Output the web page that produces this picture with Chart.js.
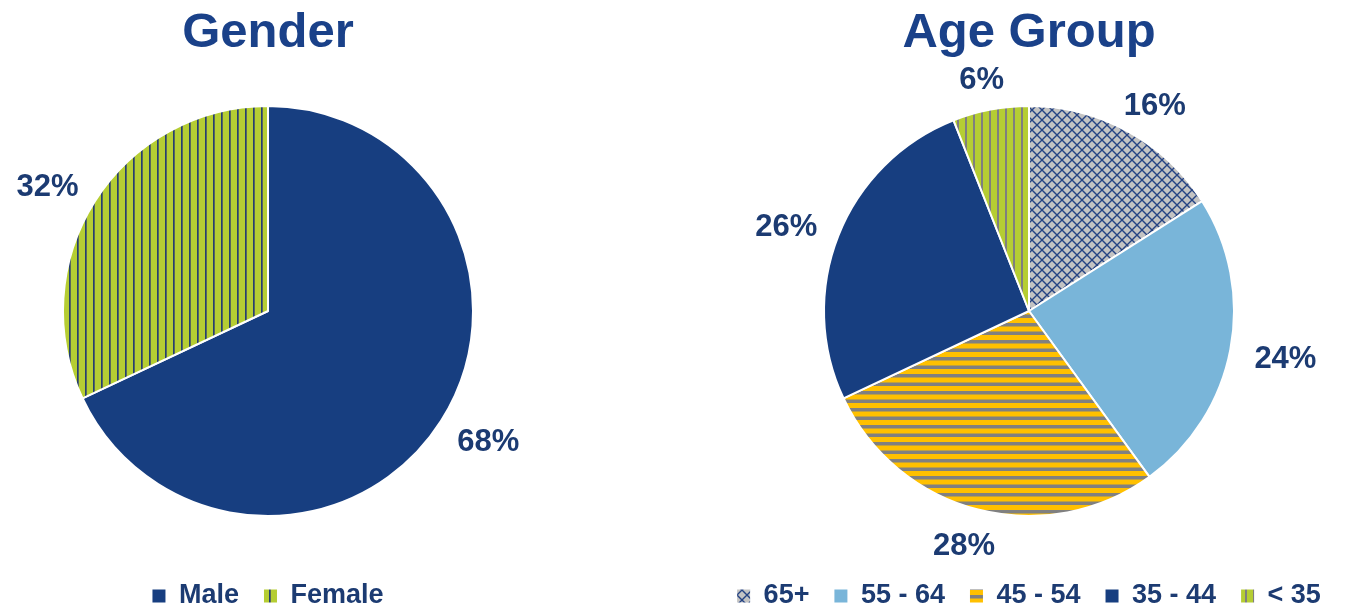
<!DOCTYPE html>
<html>
<head>
<meta charset="utf-8">
<script src="https://cdn.jsdelivr.net/npm/chart.js@4/dist/chart.umd.min.js"></script>
<style>
  html, body { margin: 0; padding: 0; background: #ffffff; }
  #wrap { position: relative; width: 1346px; height: 607px; overflow: hidden; }
  canvas { position: absolute; top: 0; }
  #genderChart { left: 0; }
  #ageChart { left: 712px; }
</style>
</head>
<body>
<div id="wrap">
  <canvas id="genderChart" width="536" height="607"></canvas>
  <canvas id="ageChart" width="634" height="607"></canvas>
</div>
<script>
// Survey respondents, shares in percent
const genderLabels = ['Male', 'Female'];
const genderValues = [68, 32];

const ageLabels = ['65+', '55 - 64', '45 - 54', '35 - 44', '< 35'];
const ageValues = [16, 24, 28, 26, 6];

const NAVY = '#173E80';
const TEXT = '#1C3B72';
const TITLE = '#1A4189';
const FONT = '"Liberation Sans", Arial, Helvetica, sans-serif';

// ---- fill patterns -------------------------------------------------------
function tile(w, h, paint) {
  const c = document.createElement('canvas');
  c.width = w; c.height = h;
  const g = c.getContext('2d');
  paint(g, w, h);
  return document.createElement('canvas').getContext('2d').createPattern(c, 'repeat');
}

// green with thin dark vertical rules
const femaleFill = tile(8, 8, (g, w, h) => {
  g.fillStyle = '#B5CD33'; g.fillRect(0, 0, w, h);
  g.fillStyle = '#24406F'; g.fillRect(5, 0, 1, h);
  g.fillStyle = '#56665E'; g.fillRect(6, 0, 1, h);
});

// green with grey vertical rules
const youngFill = tile(8, 8, (g, w, h) => {
  g.fillStyle = '#B5CD33'; g.fillRect(0, 0, w, h);
  g.fillStyle = '#7F7F7F'; g.fillRect(5, 0, 2, h);
});

// grey with navy diagonal crosshatch
const seniorFill = tile(10, 10, (g, w, h) => {
  g.fillStyle = '#C3C3C3'; g.fillRect(0, 0, w, h);
  g.strokeStyle = '#254383'; g.lineWidth = 1.4;
  g.beginPath();
  g.moveTo(-1, -1); g.lineTo(w + 1, h + 1);
  g.moveTo(w + 1, -1); g.lineTo(-1, h + 1);
  g.stroke();
});

// yellow with grey horizontal bands
const midFill = tile(8, 17, (g, w, h) => {
  g.fillStyle = '#FFC000'; g.fillRect(0, 0, w, h);
  g.fillStyle = '#808080';
  g.fillRect(0, 0, w, 3.5);
  g.fillRect(0, 8.5, w, 3.5);
});

const genderColors = [NAVY, femaleFill];
const ageColors = [seniorFill, '#79B5D9', midFill, NAVY, youngFill];

// ---- percentage labels placed just outside each slice ---------------------
const outsideLabels = {
  id: 'outsideLabels',
  afterDatasetsDraw(chart) {
    const ctx = chart.ctx;
    const meta = chart.getDatasetMeta(0);
    const values = chart.data.datasets[0].data;
    const size = 31;
    const gap = 25;
    ctx.save();
    ctx.font = 'bold ' + size + 'px ' + FONT;
    ctx.fillStyle = TEXT;
    ctx.textAlign = 'center';
    ctx.textBaseline = 'middle';
    meta.data.forEach((arc, i) => {
      const p = arc.getProps(['x', 'y', 'startAngle', 'endAngle', 'outerRadius'], true);
      const mid = (p.startAngle + p.endAngle) / 2;
      const cx = Math.cos(mid), cy = Math.sin(mid);
      const text = values[i] + '%';
      const w = ctx.measureText(text).width;
      const h = size * 0.55;
      const x = p.x + cx * (p.outerRadius + gap) + cx * w / 2;
      const y = p.y + cy * (p.outerRadius + gap) + cy * h / 2 + 4;
      ctx.fillText(text, x, y);
    });
    ctx.restore();
  }
};

function makePie(id, title, labels, values, colors) {
  return new Chart(document.getElementById(id), {
    type: 'pie',
    data: {
      labels: labels,
      datasets: [{
        data: values,
        backgroundColor: colors,
        borderColor: '#ffffff',
        borderWidth: 2
      }]
    },
    options: {
      responsive: false,
      animation: false,
      radius: 205,
      layout: { padding: { top: 0, bottom: -12.5, left: 0, right: 0 } },
      plugins: {
        title: {
          display: true,
          text: title,
          color: TITLE,
          font: { family: FONT, size: 49, weight: 'bold', lineHeight: 1.2 },
          padding: { top: 3.6, bottom: 2.1 }
        },
        legend: {
          display: true,
          position: 'bottom',
          labels: {
            color: TEXT,
            font: { family: FONT, size: 27, weight: 'bold' },
            boxWidth: 13,
            boxHeight: 13,
            padding: 25,
            generateLabels(chart) {
              const items = Chart.overrides.pie.plugins.legend.labels.generateLabels(chart);
              items.forEach(it => { it.lineWidth = 0; it.strokeStyle = 'rgba(0,0,0,0)'; });
              return items;
            }
          }
        },
        tooltip: { enabled: false }
      }
    },
    plugins: [outsideLabels]
  });
}

makePie('genderChart', 'Gender', genderLabels, genderValues, genderColors);
makePie('ageChart', 'Age Group', ageLabels, ageValues, ageColors);
</script>
</body>
</html>
